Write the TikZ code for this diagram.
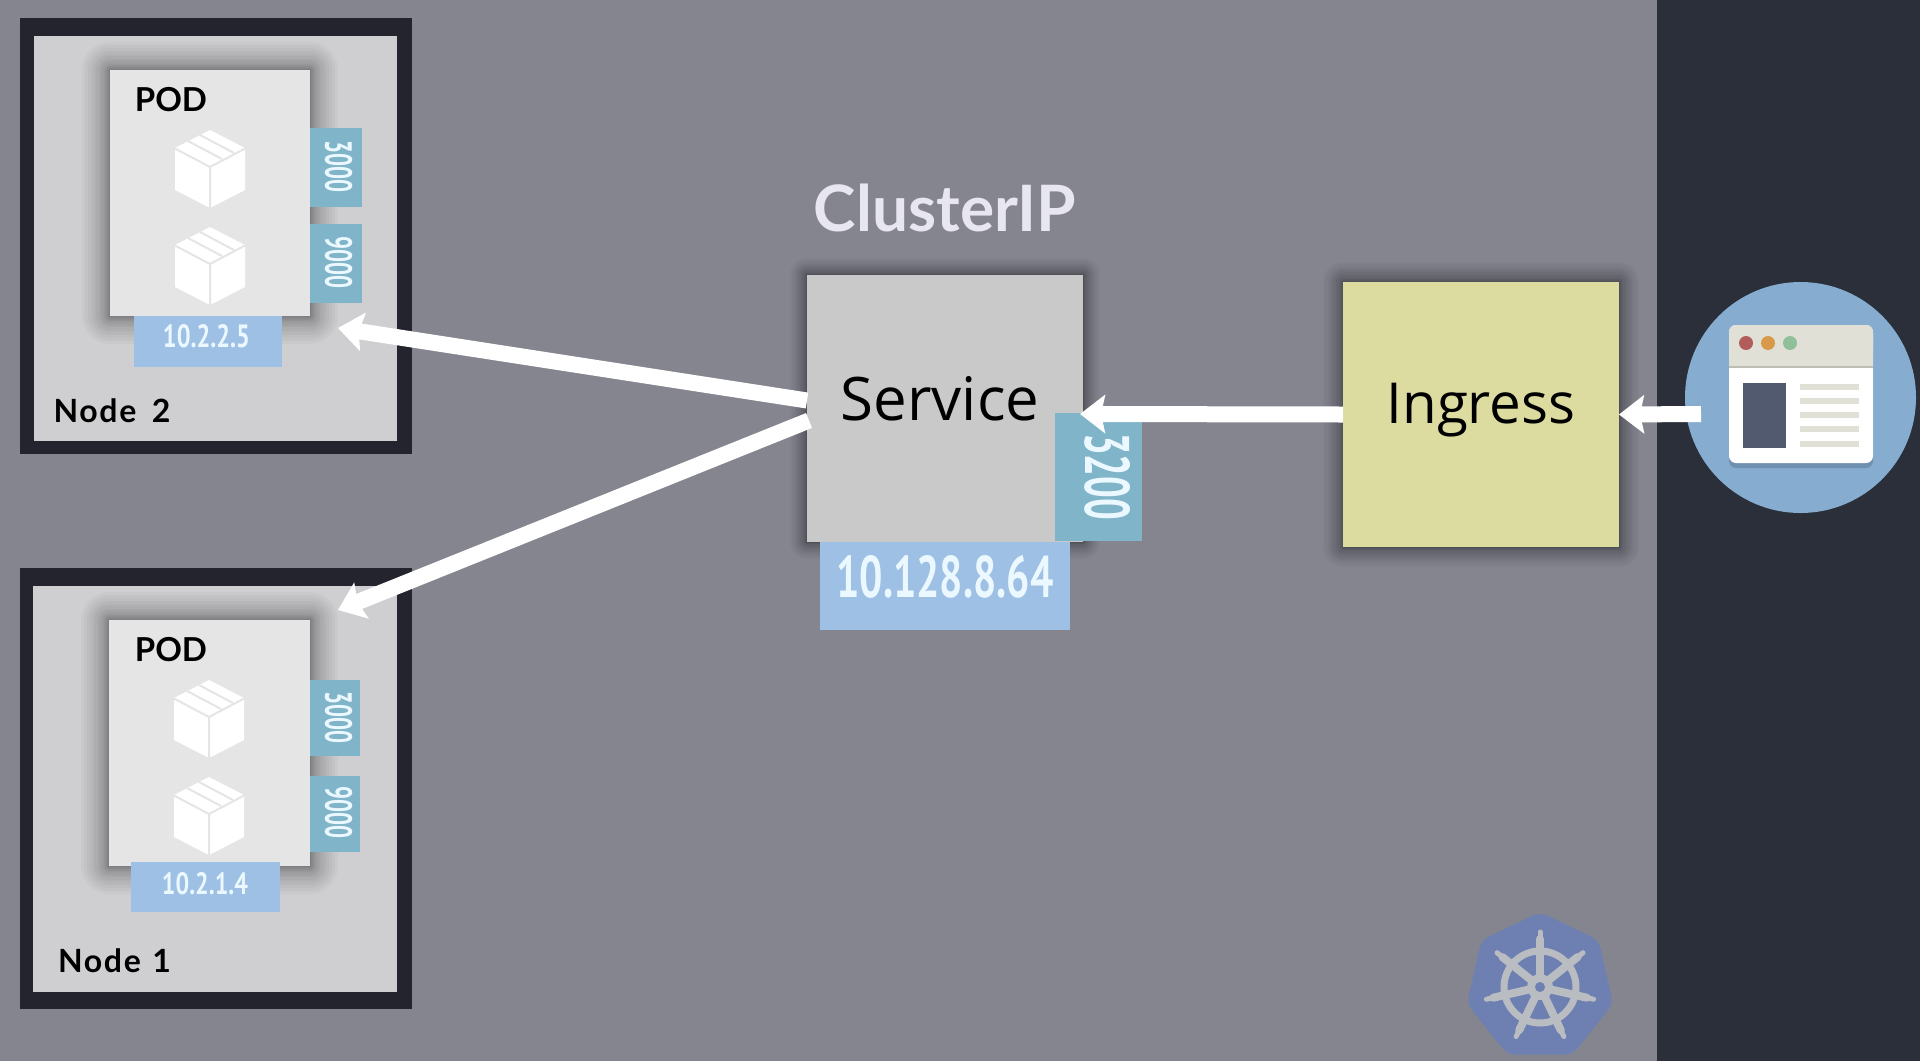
\documentclass[tikz,border=0pt]{standalone}
\usepackage{fontspec}
\setmainfont{Lato}
\newfontfamily\boxfont{Open Sans}
\newfontfamily\numfont{PT Sans}
\usetikzlibrary{arrows.meta,shapes.geometric}

\definecolor{canvasgrey}{HTML}{858590}
\definecolor{panelnavy}{HTML}{2A2F3A}
\definecolor{nodeframe}{HTML}{24242E}
\definecolor{nodefill}{HTML}{CFCFD1}
\definecolor{podfill}{HTML}{E5E5E5}
\definecolor{portblue}{HTML}{7FB4C9}
\definecolor{ipblue}{HTML}{9DC0E4}
\definecolor{servicegrey}{HTML}{C9C9C9}
\definecolor{ingressyellow}{HTML}{DCDBA0}
\definecolor{webcircle}{HTML}{86ACD0}
\definecolor{webbar}{HTML}{E0E0D6}
\definecolor{webblock}{HTML}{525A70}
\definecolor{webshade}{HTML}{6F90B0}
\definecolor{dotred}{HTML}{B35C5C}
\definecolor{dotorange}{HTML}{D89A4A}
\definecolor{dotgreen}{HTML}{8FC09A}
\definecolor{numwhite}{HTML}{ECF8FF}
\definecolor{titlelilac}{HTML}{E8E6F0}
\definecolor{helmblue}{HTML}{6E80B2}
\definecolor{helmwheel}{HTML}{B9BCC0}

% Fits a number into an exact width and height
\newcommand{\fitnum}[3]{\resizebox{#1pt}{#2pt}{\numfont\bfseries #3}}

\tikzset{
  box/.style={rectangle,inner sep=0pt,outer sep=0pt,anchor=north west},
  shadowring/.style={preaction={draw=black,draw opacity=.028,line width=#1,line join=round}},
  % rings packed tighter towards the box, so the shade fades out without an edge
  softshadow/.style={
    shadowring=#1*1.00,shadowring=#1*.88,shadowring=#1*.77,shadowring=#1*.67,
    shadowring=#1*.58,shadowring=#1*.49,shadowring=#1*.41,shadowring=#1*.34,
    shadowring=#1*.28,shadowring=#1*.22,shadowring=#1*.17,shadowring=#1*.13,
    shadowring=#1*.09,shadowring=#1*.06,shadowring=#1*.04,shadowring=#1*.02},
  frame/.style={box,fill=nodeframe},
  nodepanel/.style={box,fill=nodefill},
  podbox/.style={box,fill=podfill,softshadow=56pt},
  portbox/.style={box,fill=portblue},
  ipbox/.style={box,fill=ipblue},
  numlabel/.style={text=numwhite,inner sep=0pt,outer sep=0pt},
  podtitle/.style={inner sep=0pt,text=black,anchor=center,font=\fontsize{33}{33}\selectfont\bfseries},
  smalltitle/.style={inner sep=0pt,text=black,anchor=center,font=\fontsize{32}{32}\selectfont\bfseries\addfontfeatures{LetterSpace=5}},
  bigtitle/.style={inner sep=0pt,text=black,anchor=center},
  flow/.style={draw=white,line width=16pt,-{Stealth[length=25pt,width=38pt,inset=4pt]}},
  cubeicon/.pic={
    \fill[white] (0,-38) -- (35,-20) -- (35,22) -- (0,40) -- (-35,22) -- (-35,-20) -- cycle;
    \draw[podfill,line width=2pt] (-36,-20) -- (0,-1) -- (36,-20) (0,-1) -- (0,40);
    \draw[podfill,line width=2pt] (-22,-27) -- (12,-9) (-10,-33) -- (24,-15);
  },
}

\begin{document}
\begin{tikzpicture}[x=1pt,y=-1pt]
\useasboundingbox (0,0) rectangle (1920,1061);

% Backdrop and the outside-the-cluster band
\fill[canvasgrey] (0,0) rectangle (1920,1061);
\fill[panelnavy] (1657,0) rectangle (1920,1061);

% Node 2
\node[frame,minimum width=392pt,minimum height=436pt] (frame2) at (20,18) {};
\node[nodepanel,minimum width=363pt,minimum height=405pt] (panel2) at (34,36) {};
\node[podbox,minimum width=200pt,minimum height=246pt] (pod2) at (110,70) {};
\node[podtitle] (podlabel2) at (171,100) {POD};
\pic at (210,168) {cubeicon};
\pic at (210,265) {cubeicon};
\node[portbox,minimum width=52pt,minimum height=79pt] (p2a) at (310,128) {};
\node[portbox,minimum width=52pt,minimum height=79pt] (p2b) at (310,224) {};
\node[numlabel,rotate=-90] (p2at) at (338.5,166) {\fitnum{52}{27}{3000}};
\node[numlabel,rotate=-90] (p2bt) at (338.5,262.5) {\fitnum{52}{27}{9000}};
\node[ipbox,minimum width=148pt,minimum height=51pt] (ip2) at (134,316) {};
\node[numlabel] (ip2t) at (206.5,336.5) {\fitnum{87}{23}{10.2.2.5}};
\node[smalltitle] (name2) at (112,411) {Node\hspace{6pt} 2};

% Node 1
\node[frame,minimum width=392pt,minimum height=441pt] (frame1) at (20,568) {};
\node[nodepanel,minimum width=364pt,minimum height=406pt] (panel1) at (33,586) {};
\node[podbox,minimum width=201pt,minimum height=246pt] (pod1) at (109,620) {};
\node[podtitle] (podlabel1) at (171,650) {POD};
\pic at (209,718) {cubeicon};
\pic at (209,815) {cubeicon};
\node[portbox,minimum width=50pt,minimum height=76pt] (p1a) at (310,680) {};
\node[portbox,minimum width=50pt,minimum height=76pt] (p1b) at (310,776) {};
\node[numlabel,rotate=-90] (p1at) at (338.5,717.5) {\fitnum{52}{27}{3000}};
\node[numlabel,rotate=-90] (p1bt) at (338.5,812.5) {\fitnum{52}{27}{9000}};
\node[ipbox,minimum width=149pt,minimum height=50pt] (ip1) at (131,862) {};
\node[numlabel] (ip1t) at (205,884) {\fitnum{86}{22}{10.2.1.4}};
\node[smalltitle] (name1) at (114.5,961) {Node\hspace{2pt} 1};

% Service with its address and port
\node[anchor=center,inner sep=0pt,text=titlelilac,font=\fontsize{64}{64}\selectfont\bfseries] (cip) at (945,208) {ClusterIP};
\node[box,fill=servicegrey,softshadow=34pt,minimum width=276pt,minimum height=267pt] (svc) at (807,275) {};
\node[bigtitle,font=\boxfont\fontsize{60}{60}\selectfont] (svct) at (940,399) {Service};
\node[ipbox,minimum width=250pt,minimum height=88pt] (svcip) at (820,542) {};
\node[numlabel] (svcipt) at (945,577) {\fitnum{217}{42}{10.128.8.64}};
\node[portbox,minimum width=87pt,minimum height=128pt] (svcport) at (1055,413) {};
\node[numlabel,rotate=-90] (svcportt) at (1107.5,476.5) {\fitnum{87}{45}{3200}};

% Ingress
\node[box,fill=ingressyellow,softshadow=40pt,minimum width=276pt,minimum height=265pt] (ing) at (1343,282) {};
\node[bigtitle,font=\boxfont\fontsize{56.5}{56.5}\selectfont] (ingt) at (1481,410) {Ingress};

% Web client: circle with a browser window
\node[circle,fill=webcircle,inner sep=0pt,minimum size=231pt] (web) at (1800.5,397.5) {};
\fill[webshade,rounded corners=7pt] (1729,335) rectangle (1873,468);
\node[box,fill=white,rounded corners=7pt,minimum width=144pt,minimum height=138pt] (win) at (1729,325) {};
\fill[webbar,rounded corners=7pt] (1729,325) rectangle (1873,360);
\fill[webbar] (1729,345) rectangle (1873,368);
\fill[webbar!85!black] (1729,366) rectangle (1873,368);
\fill[dotred] (1746,343) circle (7);
\fill[dotorange] (1768,343) circle (7);
\fill[dotgreen] (1790,343) circle (7);
\fill[webblock] (1743,383) rectangle (1786,448);
\foreach \ly in {387,401,415,429,444}
  \fill[webbar] (1800,\ly-3) rectangle (1859,\ly+3);

% Kubernetes wheel
\node[regular polygon,regular polygon sides=7,fill=helmblue,rounded corners=8pt,inner sep=0pt,minimum size=150pt] (helm) at (1540,987) {};
\begin{scope}[shift={(1540,987)},helmwheel]
  \draw[line width=7pt] (0,0) circle (36);
  \foreach \k in {0,...,6} {
    \draw[line width=8pt,line cap=round] (0,0) -- (-90+\k*360/7:48);
    \draw[line width=5pt,line cap=round] (-90+\k*360/7:48) -- (-90+\k*360/7:55);
  }
  \fill (0,0) circle (13);
  \fill[helmblue] (0,0) circle (5);
\end{scope}

% Traffic flow between the components
\coordinate (svcin) at (1080,414);
\coordinate (webout) at (1701,414);
\coordinate (tip2) at (338,328);
\coordinate (tip1) at (338,610);
\draw[flow] (webout) -- (ing.east);
\draw[flow] (ing.west) -- (svcin);
\draw[flow] ([yshift=8pt]svc.west) -- (tip2);
\draw[flow] ([yshift=-12pt,xshift=2pt]svc.west) -- (tip1);
\end{tikzpicture}
\end{document}
